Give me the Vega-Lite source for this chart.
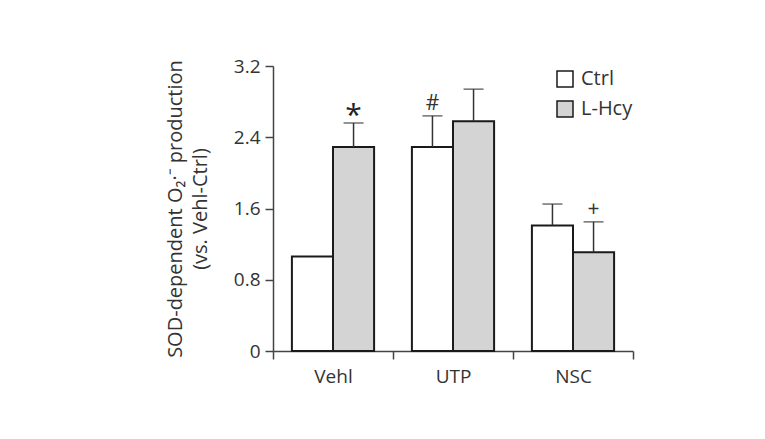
{
  "$schema": "https://vega.github.io/schema/vega-lite/v6.json",
  "width": 360,
  "height": 285,
  "autosize": {"type": "none"},
  "padding": {"left": 273, "top": 66, "right": 132, "bottom": 88},
  "background": "white",
  "config": {"view": {"stroke": null}, "font": "Open Sans"},
  "data": {"values": [
    {"treatment": "Vehl", "group": "Ctrl", "value": 1.06, "upper": null, "sig": ""},
    {"treatment": "Vehl", "group": "L-Hcy", "value": 2.29, "upper": 2.56, "sig": "*"},
    {"treatment": "UTP", "group": "Ctrl", "value": 2.29, "upper": 2.64, "sig": "#"},
    {"treatment": "UTP", "group": "L-Hcy", "value": 2.58, "upper": 2.94, "sig": ""},
    {"treatment": "NSC", "group": "Ctrl", "value": 1.41, "upper": 1.65, "sig": ""},
    {"treatment": "NSC", "group": "L-Hcy", "value": 1.11, "upper": 1.45, "sig": "+"}
  ]},
  "encoding": {
    "x": {
      "field": "treatment", "type": "nominal", "sort": ["Vehl", "UTP", "NSC"],
      "scale": {"paddingInner": 0, "paddingOuter": 0},
      "axis": {"title": null, "labelAngle": 0, "tickBand": "extent", "tickSize": 8, "tickWidth": 1.5, "tickColor": "#444", "domainColor": "#444", "domainWidth": 1.5, "labelFontSize": 19, "labelColor": "#333", "labelPadding": 8}
    },
    "xOffset": {"field": "group", "type": "nominal", "sort": ["Ctrl", "L-Hcy"], "scale": {"paddingInner": 0, "paddingOuter": 0.46}}
  },
  "layer": [
    {
      "mark": {"type": "bar", "stroke": "#1a1a1a", "strokeWidth": 2},
      "encoding": {
        "y": {
          "field": "value", "type": "quantitative",
          "scale": {"domain": [0, 3.2], "nice": false},
          "axis": {
            "values": [0, 0.8, 1.6, 2.4, 3.2], "format": ".1~f", "grid": false,
            "title": ["SOD-dependent O₂·⁻ production", "(vs. Vehl-Ctrl)"],
            "titleFontSize": 20, "titleFontWeight": "normal", "titleColor": "#333", "titlePadding": 23, "titleLineHeight": 25,
            "tickSize": 8, "tickWidth": 1.5, "tickColor": "#444", "domainColor": "#444", "domainWidth": 1.5,
            "labelFontSize": 19, "labelColor": "#333", "labelPadding": 5
          }
        },
        "fill": {
          "field": "group", "type": "nominal",
          "scale": {"domain": ["Ctrl", "L-Hcy"], "range": ["#ffffff", "#d4d4d4"]},
          "legend": {"orient": "none", "legendX": 282, "legendY": 3, "title": null, "symbolType": "square", "symbolSize": 256, "symbolStrokeColor": "#1a1a1a", "symbolStrokeWidth": 1.5, "labelFontSize": 20, "labelColor": "#333", "rowPadding": 8, "labelOffset": 6}
        }
      }
    },
    {
      "transform": [{"filter": "datum.upper != null"}],
      "mark": {"type": "rule", "color": "#333", "strokeWidth": 1.5},
      "encoding": {"y": {"field": "value", "type": "quantitative"}, "y2": {"field": "upper"}}
    },
    {
      "transform": [{"filter": "datum.upper != null"}],
      "mark": {"type": "tick", "orient": "horizontal", "size": 20, "thickness": 1.5, "color": "#333"},
      "encoding": {"y": {"field": "upper", "type": "quantitative"}}
    },
    {
      "transform": [{"filter": "datum.sig == '*'"}],
      "mark": {"type": "text", "baseline": "alphabetic", "dy": 2, "fontSize": 30, "color": "#222"},
      "encoding": {"y": {"field": "upper", "type": "quantitative"}, "text": {"field": "sig"}}
    },
    {
      "transform": [{"filter": "datum.sig == '#' || datum.sig == '+'"}],
      "mark": {"type": "text", "baseline": "alphabetic", "dy": -6, "fontSize": 21, "color": "#333"},
      "encoding": {"y": {"field": "upper", "type": "quantitative"}, "text": {"field": "sig"}}
    }
  ]
}
